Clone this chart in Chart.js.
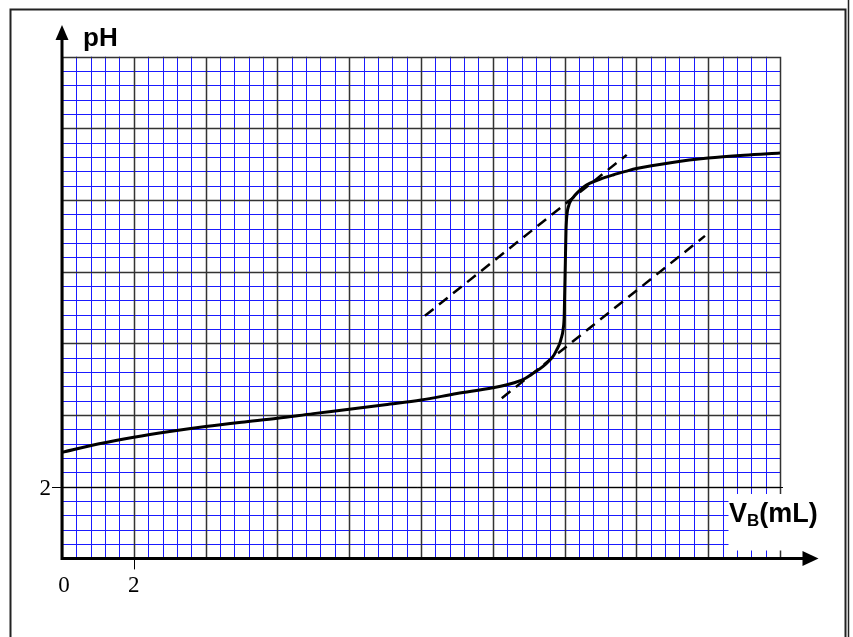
<!DOCTYPE html>
<html>
<head>
<meta charset="utf-8">
<script src="https://cdn.jsdelivr.net/npm/chart.js@4/dist/chart.umd.min.js"></script>
<style>
  html, body { margin: 0; padding: 0; background: #fff; }
  canvas { display: block; }
</style>
</head>
<body>
<canvas id="titrationChart" width="853" height="637"></canvas>
<script>
// Courbe de titrage pH = f(VB)
const volumes = [0, 1, 2, 3, 4, 5, 6, 7, 8, 9, 10, 11, 12, 12.6, 12.9, 13.13, 13.4, 13.59, 13.7, 13.78, 13.85, 13.9, 13.96, 13.99,
                 14.0, 14.02, 14.04, 14.07, 14.12, 14.17, 14.26, 14.35, 14.43, 14.55, 14.71, 14.98, 15.35, 15.7, 16, 17, 18, 19, 20];
const phValues = [2.96, 3.19, 3.38, 3.54, 3.68, 3.80, 3.91, 4.04, 4.16, 4.29, 4.42, 4.60, 4.76, 4.90, 5.02, 5.17, 5.36, 5.54, 5.67, 5.82, 5.96, 6.12, 6.40, 6.80,
                  7.30, 8.24, 9.17, 9.63, 9.86, 9.98, 10.10, 10.20, 10.28, 10.38, 10.47, 10.58, 10.70, 10.80, 10.88, 11.05, 11.17, 11.25, 11.31];

// Tangentes parallèles (méthode des tangentes)
const tangentUpperV = [10.11, 15.73];
const tangentUpperPH = [6.77, 11.26];
const tangentLowerV = [12.25, 17.91];
const tangentLowerPH = [4.47, 9.0];

// Graduations
const xTickLabels = [0, 2];
const yTickLabels = [2];
const xMax = 20;
const yMax = 14;
const minorStep = 0.4;   // petit carreau
const majorEvery = 5;    // un gros carreau = 5 petits

const toPoints = (xs, ys) => xs.map((x, i) => ({ x: x, y: ys[i] }));
const crisp = p => Math.round(p) + 0.5;

// papier millimétré
const gridPlugin = {
    id: 'gridPlugin',
    beforeDatasetsDraw(chart) {
        const c = chart.ctx;
        const xs = chart.scales.x;
        const ys = chart.scales.y;
        const a = chart.chartArea;
        const nx = Math.round(xMax / minorStep);
        const ny = Math.round(yMax / minorStep);
        c.save();
        // petits carreaux d'abord, gros carreaux par-dessus
        [false, true].forEach(major => {
            c.strokeStyle = major ? '#333' : '#1a1aff';
            c.lineWidth = major ? 1.5 : 1;
            c.beginPath();
            for (let k = 0; k <= nx; k++) {
                if ((k % majorEvery === 0) !== major) continue;
                const x = crisp(xs.getPixelForValue(k * minorStep));
                c.moveTo(x, a.top);
                c.lineTo(x, a.bottom);
            }
            for (let k = 0; k <= ny; k++) {
                if ((k % majorEvery === 0) !== major) continue;
                const y = crisp(ys.getPixelForValue(k * minorStep));
                c.moveTo(a.left, y);
                c.lineTo(a.right, y);
            }
            c.stroke();
        });
        c.restore();
    }
};

const axesPlugin = {
    id: 'axesPlugin',
    afterDraw(chart) {
        const c = chart.ctx;
        const xs = chart.scales.x;
        const ys = chart.scales.y;
        const x0 = xs.getPixelForValue(0);
        const y0 = ys.getPixelForValue(0);
        const xEnd = xs.getPixelForValue(xMax);

        c.save();

        // cadre blanc derrière le titre de l'axe x
        c.fillStyle = '#fff';
        c.fillRect(728.5, 494, 57, 56.5);

        // traits de graduation
        c.strokeStyle = '#000';
        c.lineWidth = 1;
        yTickLabels.forEach(v => {
            const y = crisp(ys.getPixelForValue(v));
            c.beginPath();
            c.moveTo(x0 - 10, y);
            c.lineTo(xEnd + 3, y);
            c.stroke();
        });
        xTickLabels.filter(v => v !== 0).forEach(v => {
            const x = crisp(xs.getPixelForValue(v));
            c.beginPath();
            c.moveTo(x, y0);
            c.lineTo(x, y0 + 11);
            c.stroke();
        });

        // axes
        c.lineWidth = 3;
        c.beginPath();
        c.moveTo(x0, y0 + 1.5);
        c.lineTo(x0, 40);
        c.moveTo(x0 - 1.5, y0);
        c.lineTo(803, y0);
        c.stroke();

        // flèches
        c.fillStyle = '#000';
        c.beginPath();
        c.moveTo(x0, 25);
        c.lineTo(x0 - 6.5, 40);
        c.lineTo(x0 + 6.5, 40);
        c.closePath();
        c.fill();
        c.beginPath();
        c.moveTo(818.5, y0);
        c.lineTo(802.5, y0 - 7.5);
        c.lineTo(802.5, y0 + 7.5);
        c.closePath();
        c.fill();

        // valeurs des graduations
        c.font = '23px "Liberation Serif", "DejaVu Serif", serif';
        c.textBaseline = 'alphabetic';
        c.textAlign = 'right';
        yTickLabels.forEach(v => {
            c.fillText(String(v), 51, ys.getPixelForValue(v) + 8);
        });
        c.textAlign = 'center';
        xTickLabels.forEach(v => {
            c.fillText(String(v), xs.getPixelForValue(v) + (v === 0 ? 2 : 0), 592);
        });

        // titres des axes
        c.textAlign = 'left';
        c.font = 'bold 26px "Liberation Sans", Arial, sans-serif';
        c.fillText('pH', 83, 46);
        let tx = 729;
        c.font = 'bold 27px "Liberation Sans", Arial, sans-serif';
        c.fillText('V', tx, 522);
        tx += c.measureText('V').width;
        c.font = 'bold 17px "Liberation Sans", Arial, sans-serif';
        c.fillText('B', tx, 526);
        tx += c.measureText('B').width;
        c.font = 'bold 27px "Liberation Sans", Arial, sans-serif';
        c.fillText('(mL)', tx, 522);

        // cadre
        c.strokeStyle = '#222';
        c.lineWidth = 2;
        c.beginPath();
        c.moveTo(10.5, 640);
        c.lineTo(10.5, 9.5);
        c.lineTo(845.5, 9.5);
        c.lineTo(845.5, 640);
        c.stroke();
        c.lineWidth = 1.5;
        c.beginPath();
        c.moveTo(848.5, 0);
        c.lineTo(848.5, 640);
        c.stroke();

        c.restore();
    }
};

const ctx = document.getElementById('titrationChart').getContext('2d');
new Chart(ctx, {
    type: 'line',
    data: {
        datasets: [
            {
                data: toPoints(volumes, phValues),
                borderColor: '#000',
                borderWidth: 3,
                pointRadius: 0,
                cubicInterpolationMode: 'monotone',
                fill: false
            },
            {
                data: toPoints(tangentUpperV, tangentUpperPH),
                borderColor: '#000',
                borderWidth: 2.5,
                borderDash: [11, 7],
                pointRadius: 0,
                fill: false
            },
            {
                data: toPoints(tangentLowerV, tangentLowerPH),
                borderColor: '#000',
                borderWidth: 2.5,
                borderDash: [11, 7],
                pointRadius: 0,
                fill: false
            }
        ]
    },
    options: {
        responsive: false,
        animation: false,
        layout: { padding: { left: 62, right: 73, top: 56.7, bottom: 78.6 } },
        plugins: {
            legend: { display: false },
            tooltip: { enabled: false }
        },
        scales: {
            x: {
                type: 'linear',
                min: 0,
                max: xMax,
                afterFit(scale) { scale.height = 0; },
                border: { display: false },
                grid: { display: false },
                ticks: { display: false }
            },
            y: {
                type: 'linear',
                min: 0,
                max: yMax,
                afterFit(scale) { scale.width = 0; },
                border: { display: false },
                grid: { display: false },
                ticks: { display: false }
            }
        }
    },
    plugins: [gridPlugin, axesPlugin]
});
</script>
</body>
</html>
